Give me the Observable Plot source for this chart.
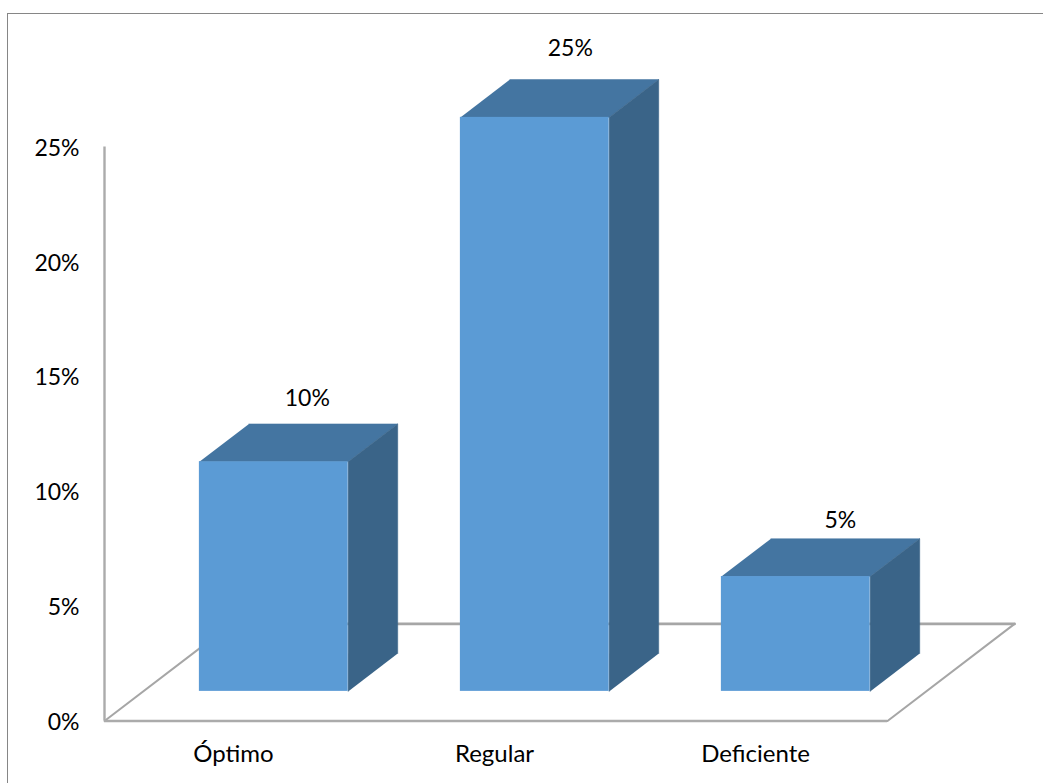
<!DOCTYPE html>
<html lang="es">
<head>
<meta charset="utf-8">
<script src="https://cdn.jsdelivr.net/npm/d3@7"></script>
<script src="https://cdn.jsdelivr.net/npm/@observablehq/plot@0.6"></script>
<style>
  html, body { margin: 0; padding: 0; background: #fff; overflow: hidden; }
  #chart { position: relative; width: 1043px; height: 783px; }
  #chart svg { position: absolute; left: 0; top: 0; background: transparent; display: block; font-variant-ligatures: none; }
  #border { position: absolute; left: 7px; top: 13px; right: -2px; bottom: -2px;
            border-left: 1.5px solid #868686; border-top: 1.5px solid #868686; }
</style>
</head>
<body>
<div id="chart"><div id="border"></div></div>
<script>
const categories = ["Óptimo", "Regular", "Deficiente"];
const values = [10, 25, 5];
const valueTicks = [0, 5, 10, 15, 20, 25];

// Oblique projection: depth 0 is the front of the floor, depth 1 is the back.
const depthX = 0.487, depthY = 4.23;
const barFront = 0.305, barBack = 0.695, barHalf = 0.285;
const px = (x, d) => x + depthX * d;
const py = (y, d) => y + depthY * d;

const bars = categories.map((name, i) => ({name, value: values[i], c: i + 0.5}));

const topFace = bars.flatMap(b => [
  {z: b.name, x: px(b.c - barHalf, barFront), y: py(b.value, barFront)},
  {z: b.name, x: px(b.c + barHalf, barFront), y: py(b.value, barFront)},
  {z: b.name, x: px(b.c + barHalf, barBack), y: py(b.value, barBack)},
  {z: b.name, x: px(b.c - barHalf, barBack), y: py(b.value, barBack)}
]);
const sideFace = bars.flatMap(b => [
  {z: b.name, x: px(b.c + barHalf, barFront), y: py(0, barFront)},
  {z: b.name, x: px(b.c + barHalf, barFront), y: py(b.value, barFront)},
  {z: b.name, x: px(b.c + barHalf, barBack), y: py(b.value, barBack)},
  {z: b.name, x: px(b.c + barHalf, barBack), y: py(0, barBack)}
]);
const floorSides = [
  {z: "left", x: 0, y: 0}, {z: "left", x: px(0, 1), y: py(0, 1)},
  {z: "right", x: 3, y: 0}, {z: "right", x: px(3, 1), y: py(0, 1)}
];
const floorBack = [{x: px(0, 1), y: py(0, 1)}, {x: px(3, 1), y: py(0, 1)}];

const font = "Lato, 'Open Sans', sans-serif";
const labelNudge = {"Óptimo": [-16, -25], "Regular": [-14, -31], "Deficiente": [-5, -18]};

const plot = Plot.plot({
  width: 1043,
  height: 783,
  marginLeft: 104,
  marginRight: 156,
  marginTop: 146.5,
  marginBottom: 62.5,
  style: {fontFamily: font, fontSize: "23px", color: "#000", background: "transparent", overflow: "visible"},
  x: {type: "linear", domain: [0, 3]},
  y: {type: "linear", domain: [0, 25]},
  marks: [
    // floor and walls
    Plot.line(floorSides, {x: "x", y: "y", z: "z", stroke: "#a6a6a6", strokeWidth: 2}),
    Plot.line(floorBack, {x: "x", y: "y", stroke: "#a6a6a6", strokeWidth: 2.6}),
    Plot.ruleX([0], {y1: 0, y2: 25, stroke: "#ababab", strokeWidth: 2.4}),
    Plot.ruleY([0], {x1: 0, x2: 3, stroke: "#ababab", strokeWidth: 2.4}),
    // axes
    Plot.axisY({ticks: valueTicks, tickFormat: d => d + "%", tickSize: 0, tickPadding: 25,
                label: null, fontSize: 23, textAnchor: "end", dy: 1.5}),
    Plot.axisX({ticks: categories.map((_, i) => i + 0.5), tickFormat: d => categories[d - 0.5],
                tickSize: 0, tickPadding: 24, label: null, fontSize: 24, dx: -1.5}),
    // bars
    Plot.line(topFace, {x: "x", y: "y", z: "z", fill: "#4475a1", stroke: "#4475a1", strokeWidth: 0.5}),
    Plot.line(sideFace, {x: "x", y: "y", z: "z", fill: "#3a6488", stroke: "#3a6488", strokeWidth: 0.5}),
    Plot.rect(bars, {
      x1: d => px(d.c - barHalf, barFront),
      x2: d => px(d.c + barHalf, barFront),
      y1: () => py(0, barFront),
      y2: d => py(d.value, barFront),
      fill: "#5b9bd5"
    }),
    // value labels
    ...bars.map(b => Plot.text([b], {
      x: d => px(d.c, barBack),
      y: d => py(d.value, barBack),
      text: d => d.value + "%",
      dx: labelNudge[b.name][0],
      dy: labelNudge[b.name][1],
      fontSize: 23,
      fill: "#000"
    }))
  ]
});
document.getElementById("chart").appendChild(plot);
</script>
</body>
</html>
